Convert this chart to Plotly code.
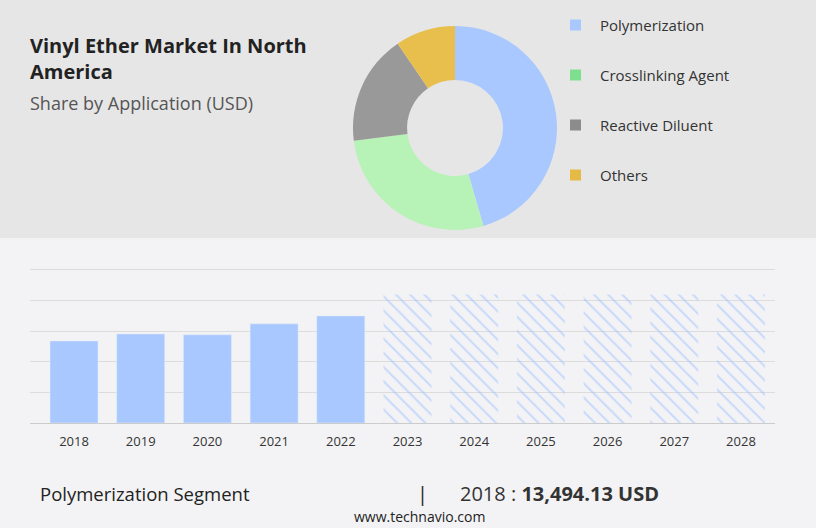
import plotly.graph_objects as go

years = ["2018","2019","2020","2021","2022","2023","2024","2025","2026","2027","2028"]
hist_vals = [2.68, 2.91, 2.88, 3.24, 3.50]
fc_vals = [4.2, 4.2, 4.2, 4.2, 4.2, 4.2]
seg_labels = ["Polymerization", "Crosslinking Agent", "Reactive Diluent", "Others"]
seg_vals = [45.5, 27.5, 17.5, 9.5]
seg_colors = ["#a9c8ff", "#b7f2b7", "#999999", "#e8bf4d"]
legend_colors = ["#a9c8ff", "#7ee08e", "#8c8c8c", "#e6bb45"]

W, H = 816, 528
def py(p): return 1 - p / H
def px(p): return p / W

fig = go.Figure()
fig.add_trace(go.Bar(x=years[:5], y=hist_vals, marker_color="#a9c8ff", width=0.72, showlegend=False))
fig.add_trace(go.Bar(x=years[5:], y=fc_vals, width=0.72, showlegend=False,
                     marker=dict(color="rgba(0,0,0,0)", line_width=0,
                                 pattern=dict(shape="\\", fgcolor="#9cc0ff", bgcolor="rgba(0,0,0,0)", size=10, solidity=0.2))))
fig.add_trace(go.Pie(labels=seg_labels, values=seg_vals, hole=0.47, sort=False, direction="clockwise",
                     rotation=0, marker=dict(colors=seg_colors), textinfo="none", showlegend=False,
                     domain=dict(x=[px(353), px(557)], y=[py(230), py(26)])))

shapes = [dict(type="rect", xref="paper", yref="paper", x0=0, x1=1, y0=py(238), y1=1,
               fillcolor="#e6e6e6", line_width=0, layer="below")]
ann = []
for i, (lab, c) in enumerate(zip(seg_labels, legend_colors)):
    yc = 25 + 50 * i
    shapes.append(dict(type="rect", xref="paper", yref="paper", x0=px(570), x1=px(581),
                       y0=py(yc + 5.5), y1=py(yc - 5.5), fillcolor=c, line_width=0))
    ann.append(dict(text=lab, x=px(598), y=py(yc), xref="paper", yref="paper", showarrow=False,
                    xanchor="left", yanchor="middle", font=dict(size=15, color="#333")))
ann += [
    dict(text="<b>Vinyl Ether Market In North<br>America</b>", x=px(28), y=py(30), xref="paper", yref="paper",
         showarrow=False, xanchor="left", yanchor="top", align="left", font=dict(size=20, color="#222")),
    dict(text="Share by Application (USD)", x=px(28), y=py(103), xref="paper", yref="paper",
         showarrow=False, xanchor="left", yanchor="middle", font=dict(size=18, color="#555")),
    dict(text="Polymerization Segment", x=px(38), y=py(493), xref="paper", yref="paper",
         showarrow=False, xanchor="left", yanchor="middle", font=dict(size=18.5, color="#222")),
    dict(text="|", x=px(422), y=py(493), xref="paper", yref="paper",
         showarrow=False, xanchor="center", yanchor="middle", font=dict(size=20, color="#222")),
    dict(text="2018 : <b>13,494.13 USD</b>", x=px(458), y=py(493), xref="paper", yref="paper",
         showarrow=False, xanchor="left", yanchor="middle", font=dict(size=20, color="#333")),
    dict(text="www.technavio.com", x=px(420), y=py(516), xref="paper", yref="paper",
         showarrow=False, xanchor="center", yanchor="middle", font=dict(size=14, color="#222")),
]
fig.update_layout(
    width=W, height=H, margin=dict(l=0, r=0, t=0, b=0),
    paper_bgcolor="#f3f3f5", plot_bgcolor="rgba(0,0,0,0)",
    font=dict(family="Open Sans"), shapes=shapes, annotations=ann,
    xaxis=dict(domain=[px(30), px(775)], range=[-0.66, 10.51], showgrid=False, ticklabelstandoff=6,
               tickfont=dict(size=13, color="#333"), showline=True, linecolor="#ccc", ticks=""),
    yaxis=dict(domain=[py(423), py(268)], range=[0, 5.065], dtick=1, showticklabels=False,
               gridcolor="#dcdcdc", zeroline=False),
)
fig.write_html("out.html", config={"displayModeBar": False},
               post_script="document.body.style.margin='0';document.body.style.overflow='hidden';")
